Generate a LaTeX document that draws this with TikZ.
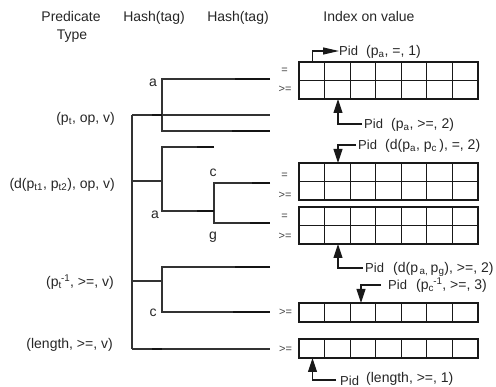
\documentclass[tikz,border=0pt]{standalone}
\usepackage{fontspec}
\setmainfont{Liberation Sans}
\usetikzlibrary{arrows.meta}
% text-font sub/superscripts
\newcommand{\sbs}[1]{\textsubscript{#1}}
\newcommand{\subsup}[2]{\textsubscript{#1}\kern-0.8pt\textsuperscript{#2}}

\begin{document}
\begin{tikzpicture}[x=1pt,y=-1pt,
  tree/.style={line width=1.1pt, draw=black!80},
  heavy/.style={line width=1.7pt, draw=black!92},
  cellgrid/.style={line width=1.1pt, draw=black!90},
  lbl/.style={font=\fontsize{14}{16}\selectfont, text=black!85, inner sep=0pt},
  pidlbl/.style={font=\fontsize{13}{15}\selectfont, text=black!85, inner sep=0pt},
  oplbl/.style={font=\fontsize{11}{13}\selectfont, text=black!75, inner sep=0pt},
  pidarrow/.style={line width=1.1pt, draw=black!90, -{Triangle[length=14pt,width=9pt]}},
  pidarrowh/.style={line width=1.1pt, draw=black!90, -{Triangle[length=16pt,width=7pt]}}]
\useasboundingbox (0,0) rectangle (496,387);

% column headings
\node[lbl, anchor=base] (hpred) at (71,21.5) {Predicate};
\node[lbl, anchor=base] (htype) at (72,39.5) {Type};
\node[lbl, anchor=base] (hash1) at (154,21.5) {Hash(tag)};
\node[lbl, anchor=base] (hash2) at (238,21.5) {Hash(tag)};
\node[lbl, anchor=base] (hidx) at (369,21.5) {Index on value};

% predicate types
\node[lbl, anchor=base east] (pt) at (115,122.5) {(p\sbs{t}, op, v)};
\node[lbl, anchor=base east] (pd) at (115,188.5) {(d(p\sbs{t1}, p\sbs{t2}), op, v)};
\node[lbl, anchor=base east] (pinv) at (114,286.5) {(p\subsup{t}{-1}, >=, v)};
\node[lbl, anchor=base east] (plen) at (113,348.5) {(length, >=, v)};

% hash tree
\draw[tree] (132,115) -- (132,349);
\draw[tree] (132,115) -- (270,115);
\draw[tree] (270,79) -- (162,79) -- (162,131) -- (270,131);
\draw[tree] (132,181) -- (162,181);
\draw[tree] (214,147) -- (162,147) -- (162,211) -- (214,211);
\draw[tree] (270,183) -- (214,183) -- (214,223) -- (270,223);
\draw[tree] (132,281) -- (162,281);
\draw[tree] (270,267) -- (162,267) -- (162,312) -- (270,312);
\draw[tree] (132,349) -- (270,349);
% overdrawn segments
\foreach \xa/\xb/\yy in {235/270/79, 152/162/115, 232/270/131, 197/214/147,
    252/270/183, 197/214/211, 250/270/223, 235/270/267, 233/270/312, 152/162/349}
  \draw[heavy] (\xa,\yy) -- (\xb,\yy);

% hash letters
\node[lbl, anchor=base] (ha1) at (153,86.5) {a};
\node[lbl, anchor=base] (ha2) at (155,218.5) {a};
\node[lbl, anchor=base] (hc1) at (213,176.5) {c};
\node[lbl, anchor=base] (hg1) at (213,239.5) {g};
\node[lbl, anchor=base] (hc2) at (153,316.5) {c};

% value index arrays
\foreach \yt/\h in {62/18.5, 80.5/18.5, 163/18.5, 181.5/18.5, 207/18.5, 225.5/18.5, 303/19, 339/19}
  \foreach \i in {0,...,6}
    \draw[cellgrid] ({299+\i*25.57},\yt) rectangle ++(25.57,\h);

% operator labels
\node[oplbl] (o1) at (284.5,71) {=};
\node[oplbl] (o2) at (285,89) {>=};
\node[oplbl] (o3) at (284.5,176) {=};
\node[oplbl] (o4) at (285,195) {>=};
\node[oplbl] (o5) at (284.5,217) {=};
\node[oplbl] (o6) at (285,236) {>=};
\node[oplbl] (o7) at (285.5,312) {>=};
\node[oplbl] (o8) at (285.5,349) {>=};

% Pid entries
\node[pidlbl, anchor=base west] (pid1) at (339,55.5) {Pid};
\node[lbl, anchor=base west] (tup1) at (366,55.5) {(p\sbs{a}, =, 1)};
\coordinate (s1) at (312.5,62);
\coordinate (k1) at (312.5,51);
\coordinate (e1) at (339,51);
\draw[pidarrowh] (s1) -- (k1) -- (e1);

\node[pidlbl, anchor=base west] (pid2) at (364,128.5) {Pid};
\node[lbl, anchor=base west] (tup2) at (391,128.5) {(p\sbs{a}, >=, 2)};
\coordinate (s2) at (362,124);
\coordinate (k2) at (338,124);
\coordinate (e2) at (338,99);
\draw[pidarrow] (s2) -- (k2) -- (e2);

\node[pidlbl, anchor=base west] (pid3) at (358,149.5) {Pid};
\node[lbl, anchor=base west] (tup3) at (385,149.5) {(d(p\sbs{a}, p\sbs{c}\,), =, 2)};
\coordinate (s3) at (356,145);
\coordinate (k3) at (338,145);
\coordinate (e3) at (338,163);
\draw[pidarrow] (s3) -- (k3) -- (e3);

\node[pidlbl, anchor=base west] (pid4) at (365,272.5) {Pid};
\node[lbl, anchor=base west] (tup4) at (393,272.5) {(d(p\sbs{\,a,}\,p\sbs{g}), >=, 2)};
\coordinate (s4) at (363,268);
\coordinate (k4) at (338,268);
\coordinate (e4) at (338,244);
\draw[pidarrow] (s4) -- (k4) -- (e4);

\node[pidlbl, anchor=base west] (pid5) at (388,289.5) {Pid};
\node[lbl, anchor=base west] (tup5) at (416,289.5) {(p\subsup{c}{-1}, >=, 3)};
\coordinate (s5) at (381,285);
\coordinate (k5) at (361,285);
\coordinate (e5) at (361,303);
\draw[pidarrow] (s5) -- (k5) -- (e5);

\node[pidlbl, anchor=base west] (pid6) at (340,385.5) {Pid};
\node[lbl, anchor=base west] (tup6) at (366,382.5) {(length, >=, 1)};
\coordinate (s6) at (336,380);
\coordinate (k6) at (312.5,380);
\coordinate (e6) at (312.5,358);
\draw[pidarrow] (s6) -- (k6) -- (e6);
\end{tikzpicture}
\end{document}
